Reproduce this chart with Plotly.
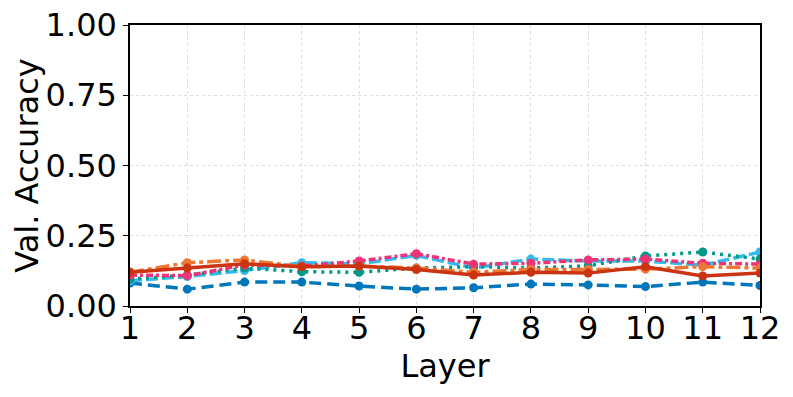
import plotly.graph_objects as go

layers = list(range(1, 13))

# values, one list per series
acc_blue = [0.082, 0.060, 0.085, 0.085, 0.071, 0.060, 0.065, 0.078, 0.075, 0.069, 0.085, 0.073]
acc_orange = [0.120, 0.154, 0.164, 0.140, 0.142, 0.135, 0.120, 0.130, 0.130, 0.131, 0.140, 0.135]
acc_red = [0.120, 0.135, 0.150, 0.140, 0.142, 0.130, 0.110, 0.120, 0.117, 0.140, 0.107, 0.117]
acc_cyan = [0.090, 0.105, 0.126, 0.154, 0.150, 0.180, 0.135, 0.167, 0.160, 0.160, 0.145, 0.192]
acc_teal = [0.096, 0.110, 0.135, 0.122, 0.120, 0.135, 0.140, 0.135, 0.143, 0.178, 0.192, 0.167]
acc_magenta = [0.110, 0.108, 0.146, 0.142, 0.160, 0.186, 0.149, 0.152, 0.164, 0.167, 0.152, 0.149]

series = [
    (acc_blue, '#0077BB', '12px,6px'),
    (acc_cyan, '#33BBEE', '12px,4px'),
    (acc_teal, '#009988', '3px,5px'),
    (acc_magenta, '#EE3377', '7px,3px,3px,3px'),
    (acc_orange, '#EE7733', '14px,4px,4px,4px'),
    (acc_red, '#CC3311', 'solid'),
]

fig = go.Figure()
for values, color, dash in series:
    fig.add_trace(go.Scatter(
        x=layers, y=values, mode='lines+markers',
        line=dict(color=color, width=3.5, dash=dash),
        marker=dict(color=color, size=9),
        showlegend=False,
    ))

axis_style = dict(
    showline=True, linecolor='black', linewidth=1.5, mirror=True,
    ticks='outside', ticklen=5, tickcolor='black',
    showgrid=True, gridcolor='#dddddd', griddash='dot', gridwidth=1,
    zeroline=False, tickfont=dict(size=32, color='black'),
    automargin=False, ticklabeloverflow='allow',
)

# page body adds an 8px offset, so the figure is sized to fit the window
fig.update_layout(
    width=785, height=389,
    margin=dict(l=122, r=33, t=17, b=91),
    paper_bgcolor='white', plot_bgcolor='white',
    font=dict(family='DejaVu Sans', color='black'),
    xaxis=dict(axis_style, range=[1, 12], tickvals=layers,
               ticklabelstandoff=-12,
               title=dict(text='Layer', font=dict(size=32), standoff=4)),
    yaxis=dict(axis_style, range=[0, 1], tickvals=[0, 0.25, 0.5, 0.75, 1.0],
               tickformat='.2f',
               title=dict(text='Val. Accuracy', font=dict(size=32), standoff=4)),
)

fig.write_html("out.html")
